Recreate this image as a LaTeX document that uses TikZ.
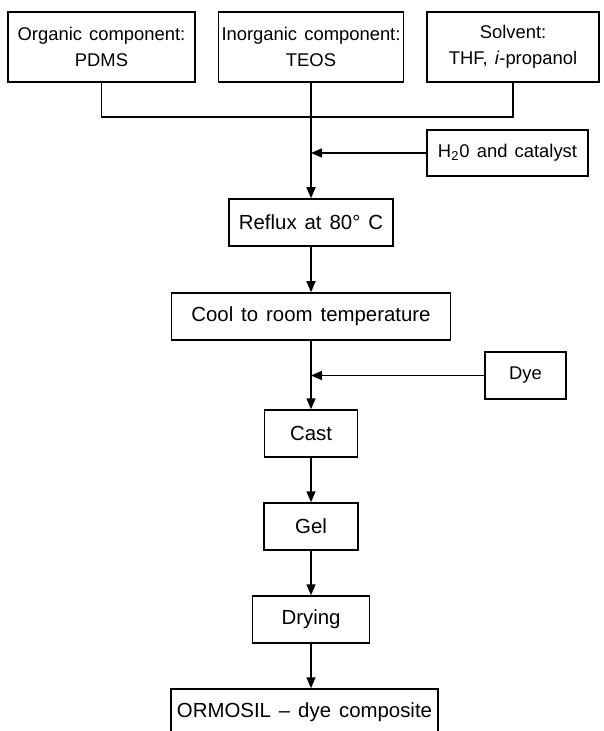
\documentclass[tikz,border=0pt]{standalone}
\usepackage{fontspec}
\setmainfont{Liberation Sans}[WordSpace=1.4]
\usetikzlibrary{arrows.meta}

\begin{document}
\begin{tikzpicture}[x = 0.5pt, y = -0.5pt,
    box/.style = {draw, line width=0.75pt, minimum height=23.5pt, inner sep=0pt, align=center, font=\fontsize{9.2}{13}\selectfont},
    stage/.style = {box, font=\fontsize{10.2}{13}\selectfont},
    flow/.style = {line width=0.75pt, -{Triangle[length=5.5pt, width=4.5pt]}}]
    \useasboundingbox (0,0) rectangle (603,731);
    \node[box, minimum width=93.5pt, minimum height=35pt] (org) at (101.5,47) {Organic component:\\PDMS};
    \node[box, minimum width=92.5pt, minimum height=35pt] (inorg) at (311,47) {Inorganic component:\\TEOS};
    \node[box, minimum width=86pt, minimum height=35pt] (solv) at (513,47) {Solvent:\\THF, \textit{i}-propanol};
    \node[box, minimum width=80.5pt, minimum height=23pt] (water) at (507.5,153) {H\textsubscript{2}0 and catalyst};
    \node[stage, minimum width=82pt] (reflux) at (311,222.5) {Reflux at 80° C};
    \node[stage, minimum width=139.5pt] (cool) at (311,316.5) {Cool to room temperature};
    \node[box, minimum width=40.5pt] (dye) at (525.5,375.5) {Dye};
    \node[stage, minimum width=46.5pt] (cast) at (311,433.5) {Cast};
    \node[stage, minimum width=47pt] (gel) at (311,526.5) {Gel};
    \node[stage, minimum width=58.5pt] (drying) at (311,619.5) {Drying};
    \node[stage, minimum width=133.5pt] (ormosil) at (304.5,712.5) {ORMOSIL -- dye composite};
    \coordinate (mix) at (311,117);
    \coordinate (addwater) at (inorg.south |- water.west);
    \coordinate (adddye) at (cool.south |- dye.west);
    \draw[line width=0.75pt]
    (org.south) |- (mix) -| (solv.south);
    \draw[flow] (inorg.south) -- (reflux.north);
    \draw[flow] (water.west) -- (addwater);
    \draw[flow] (reflux) -- (cool);
    \draw[flow] (cool) -- (cast);
    \draw[flow] (dye.west) -- (adddye);
    \draw[flow] (cast) -- (gel);
    \draw[flow] (gel) -- (drying);
    \draw[flow] (drying.south) -- (drying.south |- ormosil.north);
\end{tikzpicture}
\end{document}
